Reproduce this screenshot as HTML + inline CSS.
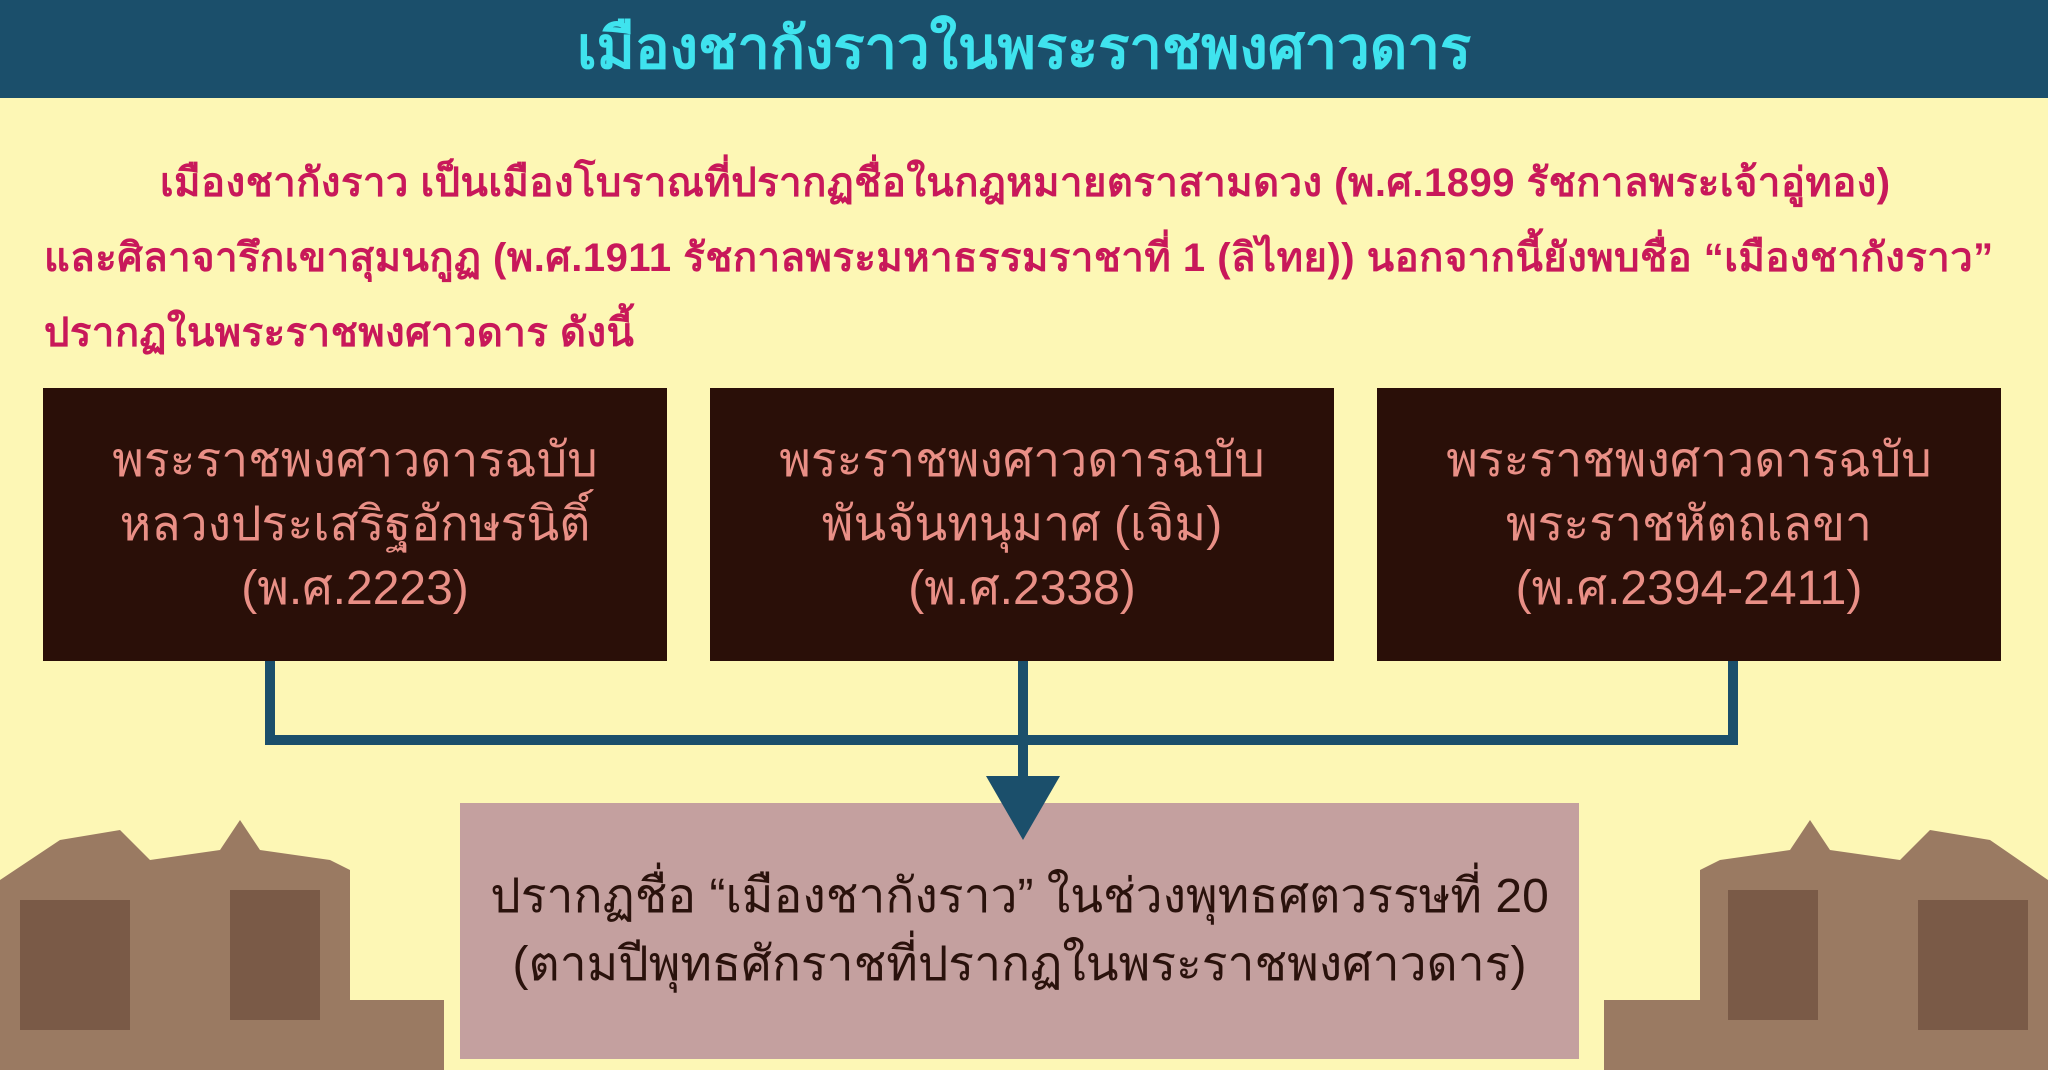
<!DOCTYPE html>
<html><head><meta charset="utf-8"><style>
body{margin:0;width:2048px;height:1070px;background:#fdf7b5;position:relative;overflow:hidden;font-family:"Liberation Sans",sans-serif;}
.hdr{position:absolute;left:0;top:0;width:2048px;height:98px;background:#1b4f6b;color:#3fe3ee;font-size:58px;font-weight:bold;text-align:center;line-height:98px;}
.p{position:absolute;left:44px;color:#c8185a;font-size:40px;letter-spacing:0.5px;font-weight:bold;white-space:nowrap;}
.box{position:absolute;top:388px;width:624px;height:273px;background:#2a0f08;color:#e98f86;font-size:48px;text-align:center;display:flex;flex-direction:column;justify-content:center;line-height:64px;}
.line{position:absolute;background:#1b4f6b;}
.bot{position:absolute;left:460px;top:803px;width:1119px;height:256px;background:#c4a09f;color:#2a120c;font-size:48px;text-align:center;display:flex;flex-direction:column;justify-content:center;line-height:68px;}
</style></head><body>
<div class="hdr">เมืองชากังราวในพระราชพงศาวดาร</div>
<div class="p" style="top:150px;left:160px">เมืองชากังราว เป็นเมืองโบราณที่ปรากฏชื่อในกฎหมายตราสามดวง (พ.ศ.1899 รัชกาลพระเจ้าอู่ทอง)</div>
<div class="p" style="top:225px">และศิลาจารึกเขาสุมนกูฏ (พ.ศ.1911 รัชกาลพระมหาธรรมราชาที่ 1 (ลิไทย)) นอกจากนี้ยังพบชื่อ “เมืองชากังราว”</div>
<div class="p" style="top:300px">ปรากฏในพระราชพงศาวดาร ดังนี้</div>
<div class="box" style="left:43px"><div>พระราชพงศาวดารฉบับ</div><div>หลวงประเสริฐอักษรนิติ์</div><div>(พ.ศ.2223)</div></div>
<div class="box" style="left:710px"><div>พระราชพงศาวดารฉบับ</div><div>พันจันทนุมาศ (เจิม)</div><div>(พ.ศ.2338)</div></div>
<div class="box" style="left:1377px"><div>พระราชพงศาวดารฉบับ</div><div>พระราชหัตถเลขา</div><div>(พ.ศ.2394-2411)</div></div>
<div class="line" style="left:265px;top:661px;width:10px;height:83px"></div>
<div class="line" style="left:1018px;top:661px;width:10px;height:120px"></div>
<div class="line" style="left:1728px;top:661px;width:10px;height:83px"></div>
<div class="line" style="left:265px;top:735px;width:1473px;height:10px"></div>
<svg style="position:absolute;left:0;top:0" width="2048" height="1070">
<g fill="#9a7a62">
<polygon points="0,880 60,840 120,830 150,860 220,850 240,820 260,850 330,860 350,870 350,1000 444,1000 444,1070 0,1070"/>
<polygon points="2048,880 1990,840 1930,830 1900,860 1830,850 1810,820 1790,850 1720,860 1700,870 1700,1000 1604,1000 1604,1070 2048,1070"/>
</g>
<g fill="#7a5a47">
<rect x="20" y="900" width="110" height="130"/><rect x="230" y="890" width="90" height="130"/>
<rect x="1918" y="900" width="110" height="130"/><rect x="1728" y="890" width="90" height="130"/>
</g>
</svg>
<div class="bot"><div>ปรากฏชื่อ “เมืองชากังราว” ในช่วงพุทธศตวรรษที่ 20</div><div>(ตามปีพุทธศักราชที่ปรากฏในพระราชพงศาวดาร)</div></div>
<svg style="position:absolute;left:0;top:0" width="2048" height="1070">
<polygon points="986,776 1060,776 1023,840" fill="#1b4f6b"/>
</svg>
</body></html>
